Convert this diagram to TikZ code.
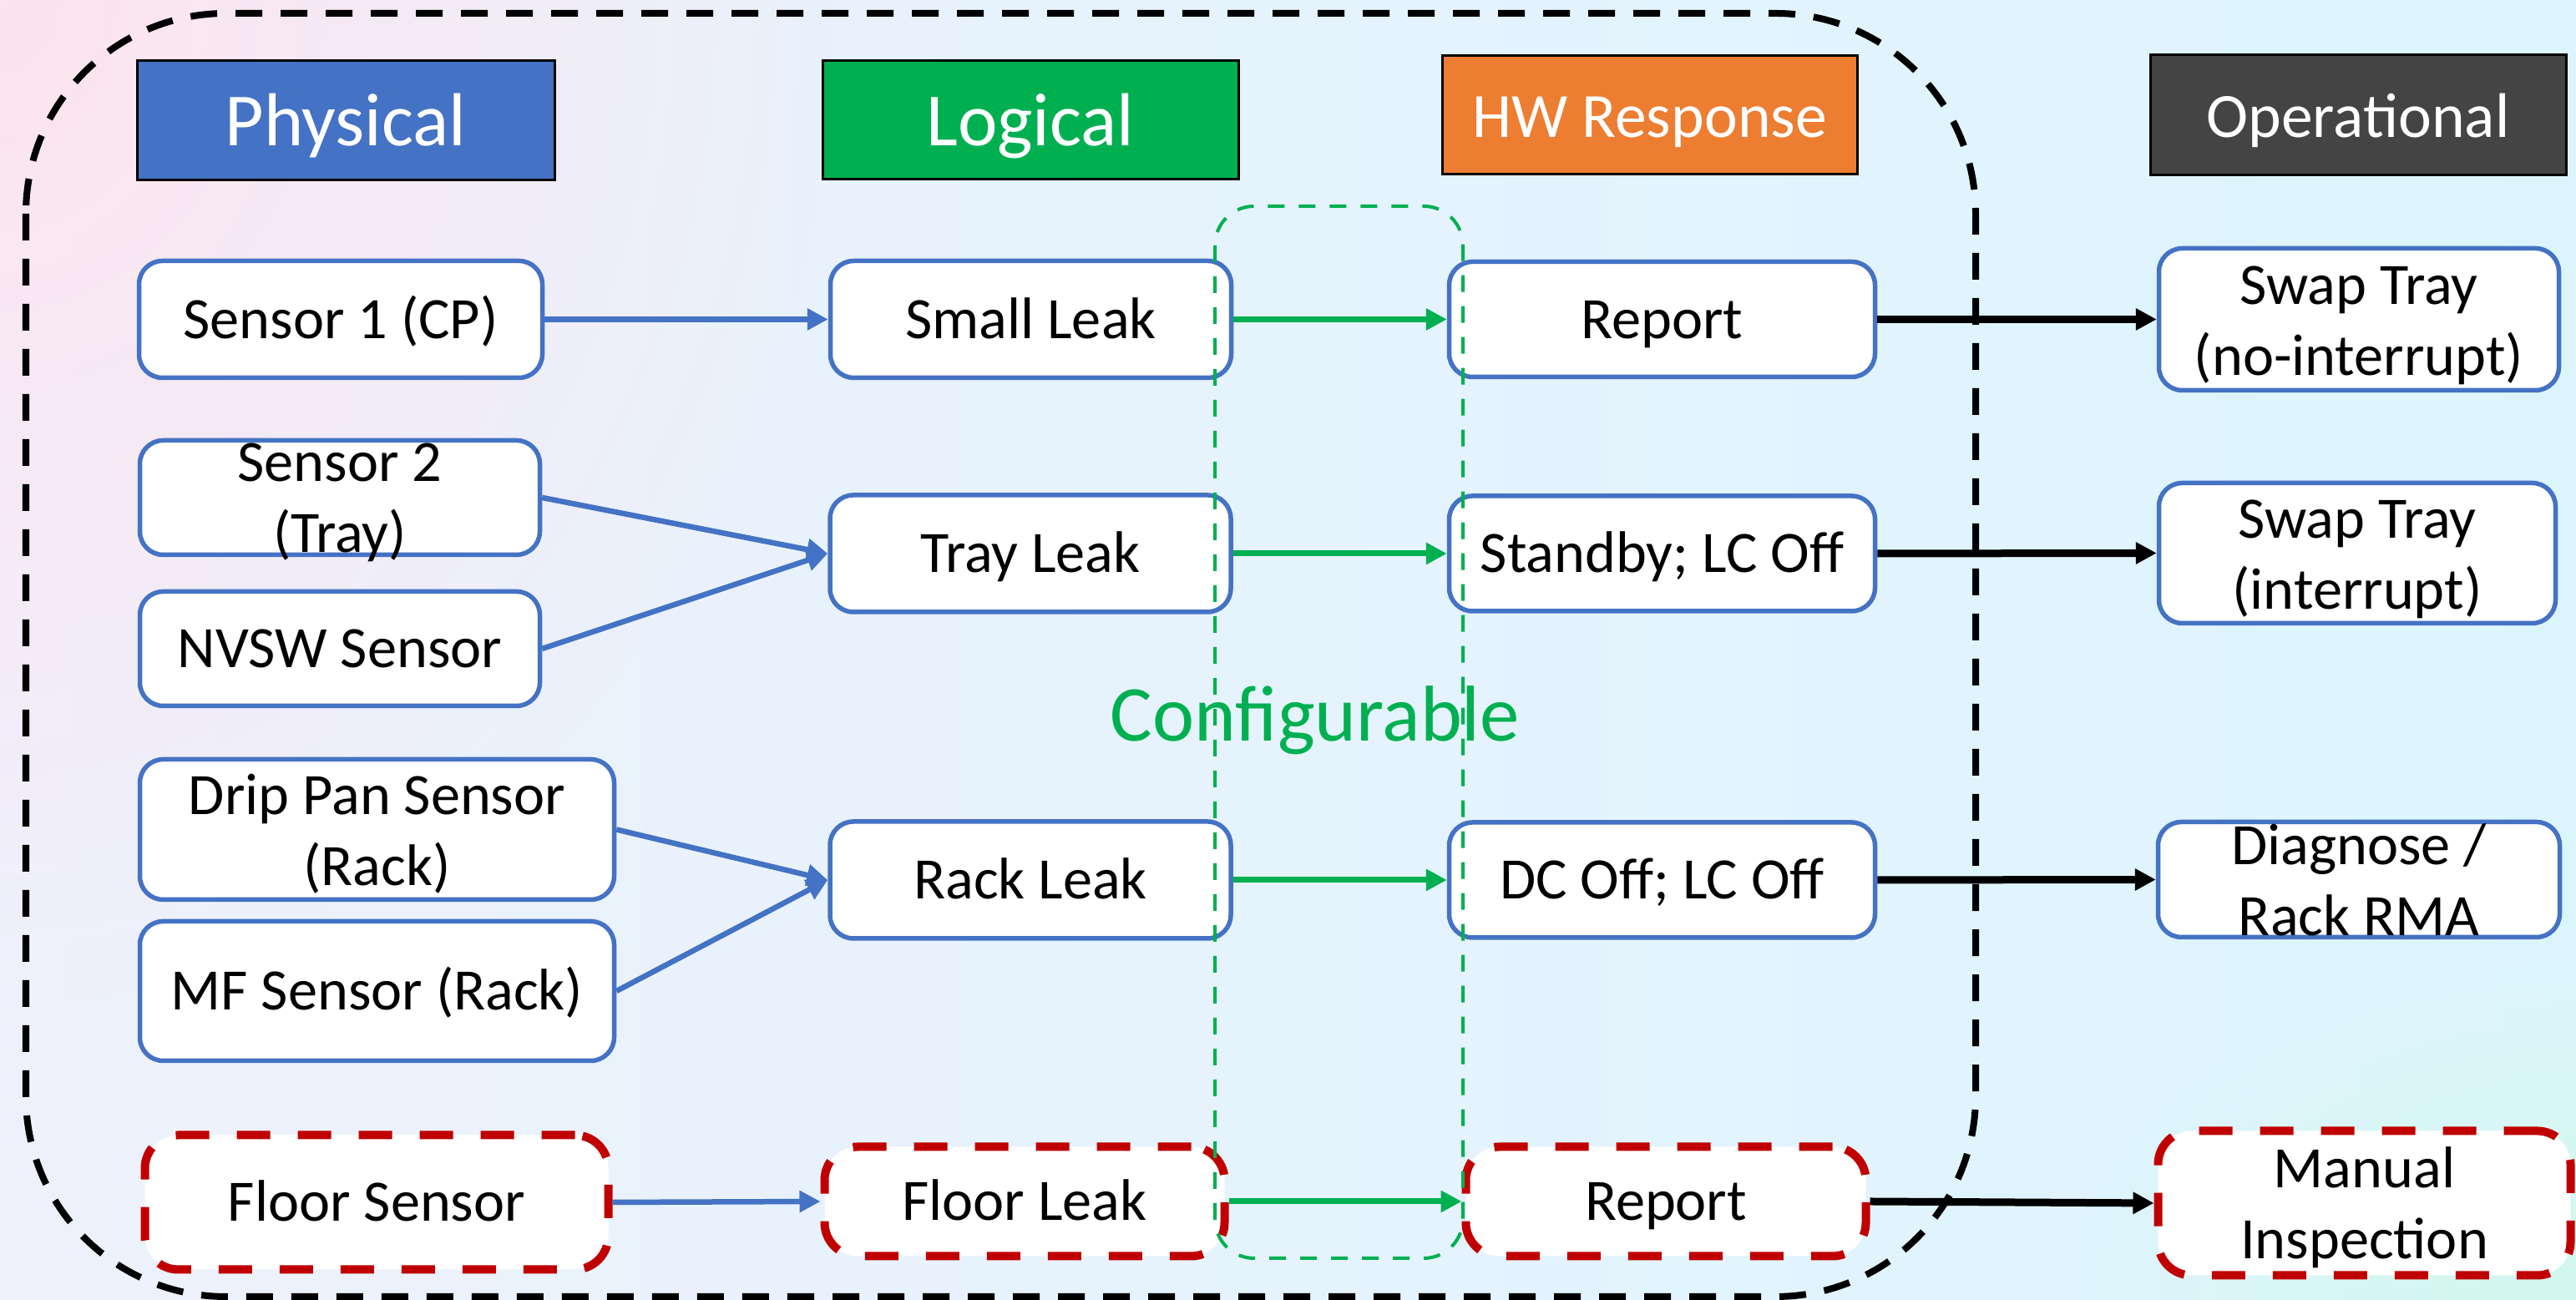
\documentclass[tikz,border=0pt]{standalone}
\usepackage{fontspec}
\setmainfont{Carlito}
\usetikzlibrary{arrows.meta,fadings}

\definecolor{bblue}{HTML}{4472C4}
\definecolor{bgreen}{HTML}{00B050}
\definecolor{borange}{HTML}{ED7D31}
\definecolor{bdark}{HTML}{444444}
\definecolor{dred}{HTML}{C00000}
\definecolor{bgleft}{HTML}{EEF1FC}
\definecolor{bgright}{HTML}{DCF5FD}
\definecolor{bgpink}{HTML}{FDE4EE}
\definecolor{bgteal}{HTML}{D2F8EC}

\tikzfading[name=softglow, inner color=transparent!0, outer color=transparent!100]

\begin{document}
\begin{tikzpicture}[
  hdr/.style={rectangle, draw=black, line width=0.03cm, text=white,
    minimum width=4.97cm, minimum height=1.42cm, inner sep=0pt},
  bigfont/.style={font=\fontsize{25.6}{30}\selectfont, text height=0.8cm, text depth=0.19cm},
  midfont/.style={font=\fontsize{21.5}{26}\selectfont, text height=0.7cm, text depth=0.16cm},
  boxfont/.style={font=\fontsize{20}{24.2}\selectfont},
  box/.style={rectangle, rounded corners=0.28cm, draw=bblue, line width=0.055cm,
    fill=white, inner sep=0pt, align=center, boxfont},
  redbox/.style={rectangle, rounded corners=0.4cm, draw=dred, line width=0.10cm,
    dash pattern=on 0.40cm off 0.33cm, fill=white, inner sep=0pt, align=center,
    boxfont},
  one/.style={text height=0.6cm, text depth=0.14cm},
  txt/.style={inner sep=0pt, align=center, boxfont},
  tip/.style={-{Triangle[length=0.25cm,width=0.25cm]}},
  barrow/.style={tip, draw=bblue, line width=0.065cm},
  garrow/.style={tip, draw=bgreen, line width=0.07cm},
  karrow/.style={tip, draw=black, line width=0.09cm},
]
\useasboundingbox (0,0) rectangle (30.85,15.57);

% background wash
\shade[left color=bgleft, right color=bgright] (0,0) rectangle (30.85,15.57);
\fill[bgpink, path fading=softglow] (0,15.57) ellipse (10cm and 12cm);
\fill[bgteal, path fading=softglow] (30.85,0) ellipse (6cm and 4cm);

% column headers
\node[hdr, bigfont, fill=bblue, minimum width=5.00cm, minimum height=1.43cm] (hphys) at (4.14,14.125) {Physical};
\node[hdr, bigfont, fill=bgreen, minimum width=4.98cm] (hlog) at (12.34,14.13) {Logical};
\node[hdr, midfont, fill=borange] (hhw) at (19.755,14.19) {HW Response};
\node[hdr, midfont, fill=bdark, minimum width=4.98cm, minimum height=1.44cm] (hops) at (28.24,14.19) {Operational};

% physical sensors
\node[box, one, minimum width=4.83cm, minimum height=1.40cm] (s1) at (4.08,11.745) {Sensor 1 (CP)};
\node[box, minimum width=4.79cm, minimum height=1.37cm] (s2) at (4.07,9.61) {};
\node[txt, yshift=-0.06cm] (s2t) at (s2.center) {Sensor 2\\(Tray)};
\node[box, one, minimum width=4.79cm, minimum height=1.37cm] (nvsw) at (4.07,7.80) {NVSW Sensor};
\node[box, minimum width=5.68cm, minimum height=1.68cm] (drip) at (4.515,5.635) {};
\node[txt, yshift=-0.05cm] (dript) at (drip.center) {Drip Pan Sensor\\(Rack)};
\node[box, one, minimum width=5.68cm, minimum height=1.67cm] (mf) at (4.515,3.70) {MF Sensor (Rack)};
\node[redbox, one, minimum width=5.55cm, minimum height=1.61cm] (floor) at (4.51,1.17) {Floor Sensor};

% logical events
\node[box, one, minimum width=4.80cm, minimum height=1.40cm] (small) at (12.345,11.745) {Small Leak};
\node[box, one, minimum width=4.80cm, minimum height=1.40cm] (tray) at (12.34,8.94) {Tray Leak};
\node[box, one, minimum width=4.80cm, minimum height=1.40cm] (rack) at (12.34,5.03) {Rack Leak};
\node[redbox, one, minimum width=4.79cm, minimum height=1.31cm] (fleak) at (12.27,1.18) {Floor Leak};

% hardware responses
\node[box, one, minimum width=5.10cm, minimum height=1.38cm] (rep) at (19.905,11.745) {Report};
\node[box, one, minimum width=5.10cm, minimum height=1.38cm] (stby) at (19.905,8.94) {Standby; LC Off};
\node[box, one, minimum width=5.10cm, minimum height=1.38cm] (dcoff) at (19.905,5.03) {DC Off; LC Off};
\node[redbox, one, minimum width=4.79cm, minimum height=1.31cm] (rep2) at (19.95,1.18) {Report};

% operational actions
\node[box, minimum width=4.79cm, minimum height=1.70cm] (swap1) at (28.25,11.745) {};
\node[txt, yshift=-0.07cm] (swap1t) at (swap1.center) {Swap Tray\\(no-interrupt)};
\node[box, minimum width=4.75cm, minimum height=1.68cm] (swap2) at (28.23,8.945) {};
\node[txt, yshift=-0.07cm] (swap2t) at (swap2.center) {Swap Tray\\(interrupt)};
\node[box, minimum width=4.81cm, minimum height=1.38cm] (diag) at (28.25,5.035) {};
\node[txt] (diagt) at (diag.center) {Diagnose /\\Rack RMA};
\node[redbox, minimum width=4.94cm, minimum height=1.73cm] (manual) at (28.315,1.16) {};
\node[txt, yshift=-0.05cm] (manualt) at (manual.center) {Manual\\Inspection};

% physical -> logical
\draw[barrow] (s1.east) -- (small.west);
\draw[barrow] (s2.east) -- (tray.west);
\draw[barrow] (nvsw.east) -- (tray.west);
\draw[barrow] (drip.east) -- (rack.west);
\draw[barrow] (mf.east) -- (rack.west);
\draw[barrow] (floor.east) -- (fleak.west);

% logical -> hardware response
\draw[garrow] (small.east) -- (rep.west);
\draw[garrow] (tray.east) -- (stby.west);
\draw[garrow] (rack.east) -- (dcoff.west);
\draw[garrow] (fleak.east) -- (rep2.west);

% hardware response -> operational
\draw[karrow] (rep.east) -- (swap1.west);
\draw[karrow] (stby.east) -- (swap2.west);
\draw[karrow] (dcoff.east) -- (diag.west);
\draw[karrow] (rep2.east) -- (manual.west);

% configurable region
\draw[bgreen, line width=0.04cm, dash pattern=on 0.20cm off 0.17cm, rounded corners=0.47cm]
  (14.55,13.10) rectangle (17.52,0.50);
\node[text=bgreen, font=\fontsize{27}{32}\selectfont, anchor=base, inner sep=0pt] (conf) at (15.75,6.69) {Configurable};

% automated scope
\draw[black, line width=0.08cm, dash pattern=on 0.32cm off 0.22cm, rounded corners=2.4cm]
  (0.31,15.41) rectangle (23.66,0.04);
\end{tikzpicture}
\end{document}
